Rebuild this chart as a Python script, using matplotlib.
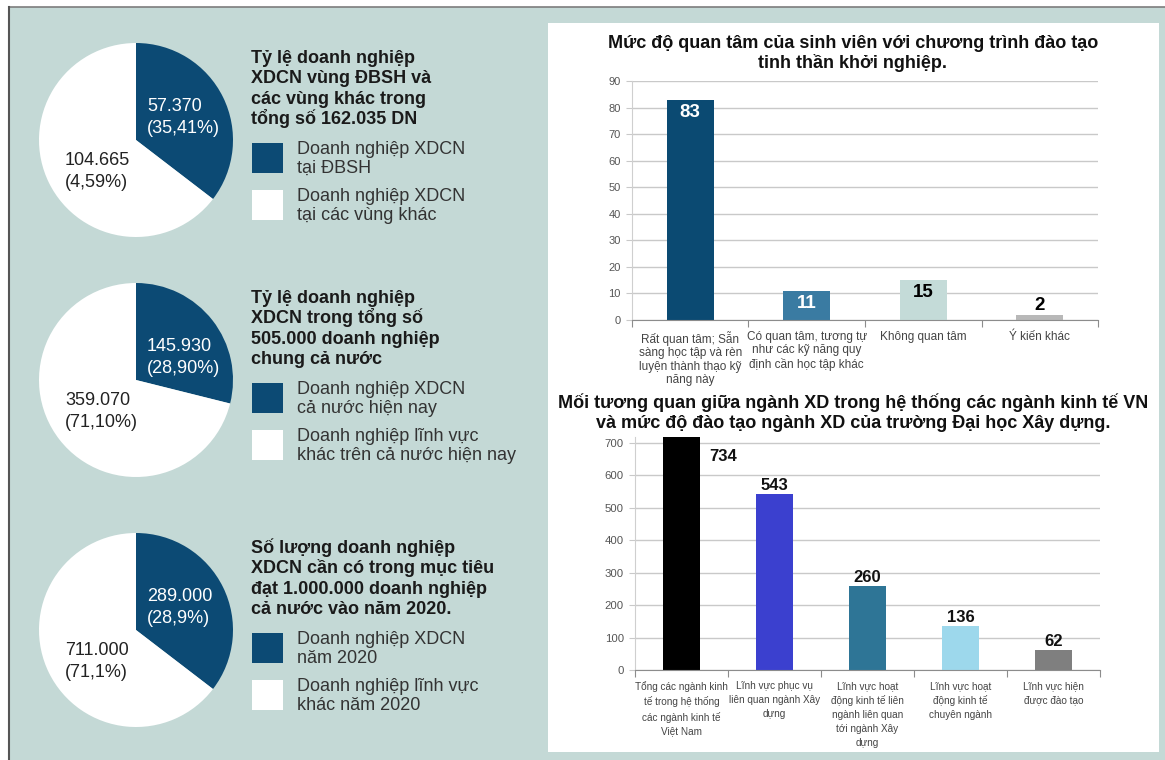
import matplotlib
matplotlib.use('Agg')
import matplotlib.pyplot as plt
from matplotlib import font_manager as fm
from matplotlib.patches import Rectangle

# ---------------- data ----------------
pie_titles = [
    "Tỷ lệ doanh nghiệp\nXDCN vùng ĐBSH và\ncác vùng khác trong\ntổng số 162.035 DN",
    "Tỷ lệ doanh nghiệp\nXDCN trong tổng số\n505.000 doanh nghiệp\nchung cả nước",
    "Số lượng doanh nghiệp\nXDCN cần có trong mục tiêu\nđạt 1.000.000 doanh nghiệp\ncả nước vào năm 2020.",
]
# slice shares (%) as drawn in the picture: [dark slice, light slice]
pie_shares = [[35.41, 64.59], [28.90, 71.10], [35.41, 64.59]]
pie_labels_dark = ["57.370\n(35,41%)", "145.930\n(28,90%)", "289.000\n(28,9%)"]
pie_labels_light = ["104.665\n(4,59%)", "359.070\n(71,10%)", "711.000\n(71,1%)"]
legend_dark = ["Doanh nghiệp XDCN\ntại ĐBSH", "Doanh nghiệp XDCN\ncả nước hiện nay",
               "Doanh nghiệp XDCN\nnăm 2020"]
legend_light = ["Doanh nghiệp XDCN\ntại các vùng khác",
                "Doanh nghiệp lĩnh vực\nkhác trên cả nước hiện nay",
                "Doanh nghiệp lĩnh vực\nkhác năm 2020"]

bar1_title = "Mức độ quan tâm của sinh viên với chương trình đào tạo\ntinh thần khởi nghiệp."
bar1_categories = ["Rất quan tâm; Sẵn\nsàng học tập và rèn\nluyện thành thạo kỹ\nnăng này",
                   "Có quan tâm, tương tự\nnhư các kỹ năng quy\nđịnh cần học tập khác",
                   "Không quan tâm", "Ý kiến khác"]
bar1_values = [83, 11, 15, 2]
bar1_ticks = list(range(0, 91, 10))

bar2_title = ("Mối tương quan giữa ngành XD trong hệ thống các ngành kinh tế VN\n"
              "và mức độ đào tạo ngành XD của trường Đại học Xây dựng.")
bar2_categories = ["Tổng các ngành kinh\ntế trong hệ thống\ncác ngành kinh tế\nViệt Nam",
                   "Lĩnh vực phục vụ\nliên quan ngành Xây\ndựng",
                   "Lĩnh vực hoạt\nđộng kinh tế liên\nngành liên quan\ntới ngành Xây\ndựng",
                   "Lĩnh vực hoạt\nđộng kinh tế\nchuyên ngành",
                   "Lĩnh vực hiện\nđược đào tạo"]
bar2_values = [734, 543, 260, 136, 62]
bar2_ticks = list(range(0, 701, 100))

# ---------------- style ----------------
W, H = 1165, 760
names = {f.name for f in fm.fontManager.ttflist}
BASE = 'Liberation Sans' if 'Liberation Sans' in names else 'DejaVu Sans'
NARROW = 'Liberation Sans Narrow' if 'Liberation Sans Narrow' in names else BASE
plt.rcParams['font.family'] = [BASE, 'DejaVu Sans']

TEAL = '#c4d9d6'
NAVY = '#0c4a74'
bar1_colors = ['#0b4a72', '#3a7ba2', '#c4dbd8', '#b8b8b8']
bar2_colors = ['#000000', '#3b40cf', '#2e7596', '#9dd8ec', '#7f7f7f']

fig = plt.figure(figsize=(W / 100, H / 100), dpi=100)
fig.patch.set_facecolor('white')

bg = fig.add_axes([0, 0, 1, 1], zorder=0)
bg.set_xlim(0, W); bg.set_ylim(H, 0); bg.axis('off')
fg = fig.add_axes([0, 0, 1, 1], zorder=20)
fg.set_xlim(0, W); fg.set_ylim(H, 0); fg.axis('off'); fg.patch.set_alpha(0)

# background panels
bg.add_patch(Rectangle((9, 7), W - 9, H - 7, facecolor=TEAL, edgecolor='none'))
bg.plot([9, W], [7, 7], color='#7d7d7d', lw=1.2)
bg.plot([9, 9], [7, H], color='#555555', lw=1.5)
bg.add_patch(Rectangle((548, 23), 611, 729, facecolor='white', edgecolor='none'))


def block(ax, x, y0, text, dy, fs, **kw):
    off = 0.34 * fs / 0.72
    for k, s in enumerate(text.split('\n')):
        ax.text(x, y0 + k * dy + off, s, va='baseline', fontsize=fs, **kw)


# ---------------- pies ----------------
pie_cy = [140, 380, 630]
pie_cx, pie_r = 136, 97
title_y0 = [57, 297, 547]
FS = 13
for i in range(3):
    cy = pie_cy[i]
    pax = fig.add_axes([(pie_cx - pie_r) / W, 1 - (cy + pie_r) / H,
                        2 * pie_r / W, 2 * pie_r / H], zorder=5)
    pax.pie(pie_shares[i], colors=[NAVY, 'white'], startangle=90,
            counterclock=False, radius=1, wedgeprops=dict(linewidth=0))
    pax.set_xlim(-1, 1); pax.set_ylim(-1, 1); pax.axis('off')

    d0 = cy - 35
    block(fg, 147, d0, pie_labels_dark[i], 22, FS, color='white')
    block(fg, 65, cy + 19, pie_labels_light[i], 21.5, FS, color='#222222')

    ty = title_y0[i]
    block(fg, 251, ty, pie_titles[i], 20.2, FS, color='#1a1a1a',
          fontweight='bold')
    sq1 = ty + 86
    fg.add_patch(Rectangle((252, sq1), 31, 30, facecolor=NAVY, edgecolor='none'))
    fg.add_patch(Rectangle((252, sq1 + 47), 31, 30, facecolor='white', edgecolor='none'))
    block(fg, 297, sq1 + 5, legend_dark[i], 19, FS, color='#333333')
    block(fg, 297, sq1 + 52, legend_light[i], 19, FS, color='#333333')


# ---------------- bar charts ----------------
def style_bar_axes(ax, ncat, ticks, cats, labelpad, tfs, cfs, lsp):
    ax.set_facecolor('none')
    ax.set_xlim(-0.5, ncat - 0.5)
    ax.set_yticks(ticks)
    ax.yaxis.grid(True, color='#c9c9c9', lw=1)
    ax.set_axisbelow(True)
    for s in ['top', 'right']:
        ax.spines[s].set_visible(False)
    ax.spines['left'].set_color('#cfcfcf')
    ax.spines['bottom'].set_color('#8c8c8c')
    ax.tick_params(axis='y', length=4, color='#c9c9c9', labelsize=tfs,
                   labelcolor='#555555', pad=4)
    ax.set_xticks([k - 0.5 for k in range(ncat + 1)])
    ax.set_xticklabels([])
    ax.tick_params(axis='x', which='major', length=5, color='#8c8c8c')
    ax.set_xticks(range(ncat), minor=True)
    ax.set_xticklabels(cats, minor=True, fontsize=cfs, color='#444444',
                       linespacing=lsp)
    ax.tick_params(axis='x', which='minor', length=0, pad=labelpad)


ax1 = fig.add_axes([632 / W, 1 - 320 / H, (1098 - 632) / W, (320 - 81) / H], zorder=6)
x1 = range(len(bar1_values))
bars1 = ax1.bar(x1, bar1_values, width=0.4, color=bar1_colors)
ax1.set_ylim(0, 90)
style_bar_axes(ax1, len(bar1_values), bar1_ticks, bar1_categories, 8, 8, 8.5, 1.15)
lab1_inside = [True, True, True, False]
lab1_color = ['white', 'white', 'black', 'black']
for b, v, ins, c in zip(bars1, bar1_values, lab1_inside, lab1_color):
    xc = b.get_x() + b.get_width() / 2
    if ins:
        ax1.annotate(str(v), (xc, v), xytext=(0, -4), textcoords='offset pixels',
                     ha='center', va='top', fontsize=13.5, fontweight='bold',
                     color=c, family=NARROW)
    else:
        ax1.annotate(str(v), (xc, v), xytext=(0, 1), textcoords='offset pixels',
                     ha='center', va='bottom', fontsize=13.5, fontweight='bold',
                     color=c, family=NARROW)

fg.text(853, 43, bar1_title.split('\n')[0], ha='center', va='center',
        fontsize=13, fontweight='bold', color='#111111')
fg.text(853, 63, bar1_title.split('\n')[1], ha='center', va='center',
        fontsize=13, fontweight='bold', color='#111111')

ax2 = fig.add_axes([635 / W, 1 - 670 / H, (1100 - 635) / W, (670 - 436.5) / H], zorder=6)
x2 = range(len(bar2_values))
bars2 = ax2.bar(x2, bar2_values, width=0.4, color=bar2_colors)
ax2.set_ylim(0, 720)
style_bar_axes(ax2, len(bar2_values), bar2_ticks, bar2_categories, 8, 8.2, 7.2, 1.48)
for k, (b, v) in enumerate(zip(bars2, bar2_values)):
    xc = b.get_x() + b.get_width() / 2
    if v > 720:
        ax2.annotate(str(v), (b.get_x() + b.get_width(), 720), xytext=(9, -20),
                     textcoords='offset pixels', ha='left', va='center',
                     fontsize=12, fontweight='bold', color='#111111',
                     family=NARROW, annotation_clip=False)
    else:
        ax2.annotate(str(v), (xc, v), xytext=(0, 1), textcoords='offset pixels',
                     ha='center', va='bottom', fontsize=12, fontweight='bold',
                     color='#111111', family=NARROW)

fg.text(853, 403, bar2_title.split('\n')[0], ha='center', va='center',
        fontsize=13, fontweight='bold', color='#111111')
fg.text(853, 423, bar2_title.split('\n')[1], ha='center', va='center',
        fontsize=13, fontweight='bold', color='#111111')

fig.savefig('out.png', dpi=100, facecolor=fig.get_facecolor())
